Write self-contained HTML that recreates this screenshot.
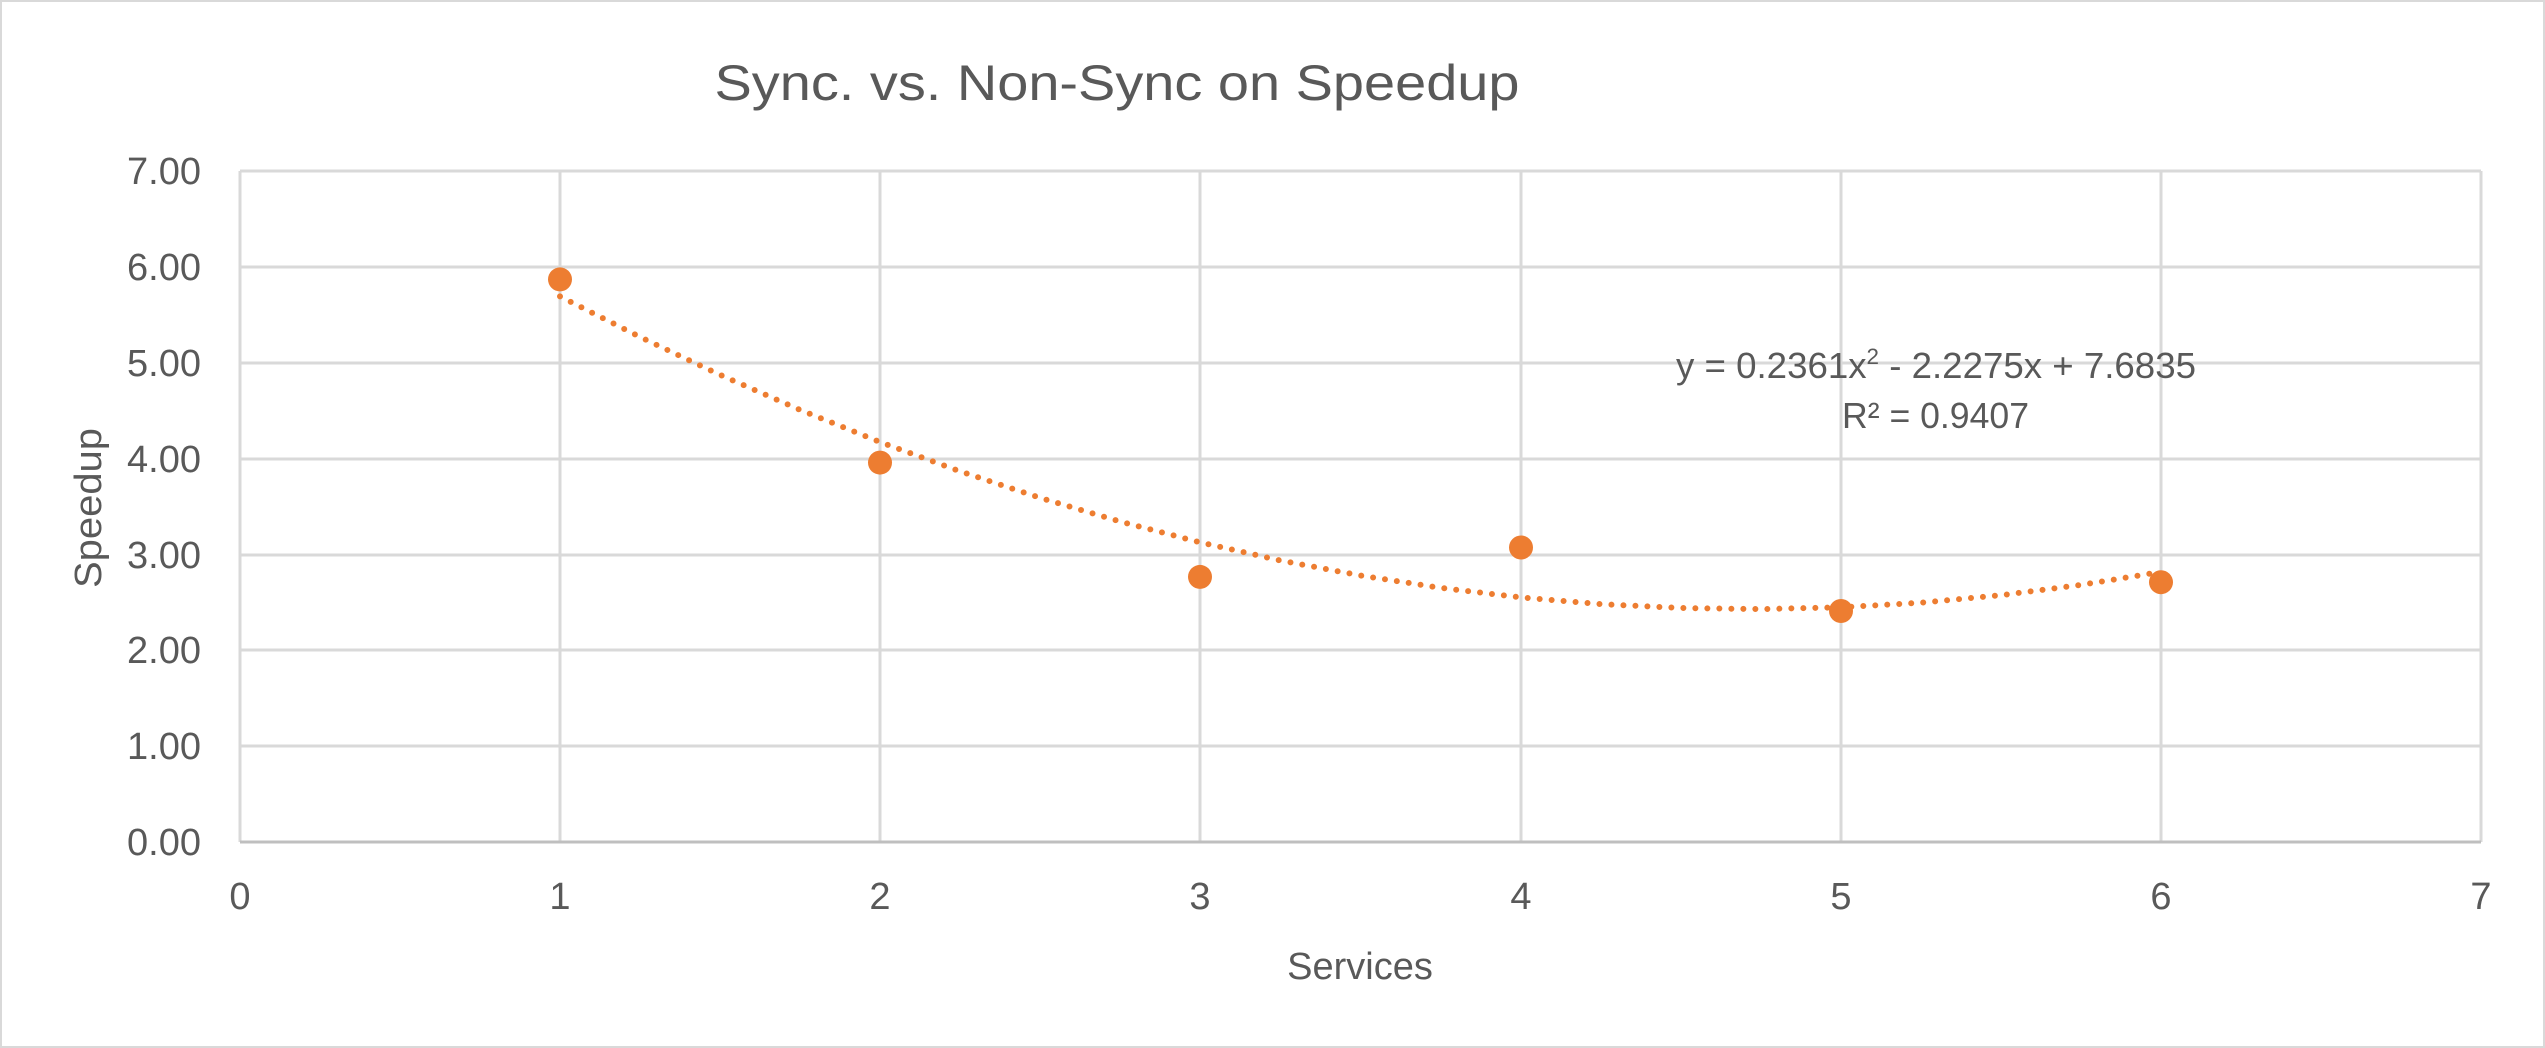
<!DOCTYPE html>
<html><head><meta charset="utf-8"><style>
html,body{margin:0;padding:0;background:#fff;}
svg{display:block;}
text{font-family:"Liberation Sans",sans-serif;fill:#595959;}
</style></head><body>
<svg width="2545" height="1048" viewBox="0 0 2545 1048" xmlns="http://www.w3.org/2000/svg">
<rect x="1" y="1" width="2543" height="1046" fill="#fff" stroke="#d9d9d9" stroke-width="2"/>
<text x="1117" y="100" font-size="50" text-anchor="middle" textLength="805" lengthAdjust="spacingAndGlyphs">Sync. vs. Non-Sync on Speedup</text>
<g stroke="#d9d9d9" stroke-width="3">
<line x1="240" y1="171" x2="2481" y2="171"/>
<line x1="240" y1="267" x2="2481" y2="267"/>
<line x1="240" y1="363" x2="2481" y2="363"/>
<line x1="240" y1="459" x2="2481" y2="459"/>
<line x1="240" y1="555" x2="2481" y2="555"/>
<line x1="240" y1="650" x2="2481" y2="650"/>
<line x1="240" y1="746" x2="2481" y2="746"/>
<line x1="240" y1="171" x2="240" y2="842"/>
<line x1="560" y1="171" x2="560" y2="842"/>
<line x1="880" y1="171" x2="880" y2="842"/>
<line x1="1200" y1="171" x2="1200" y2="842"/>
<line x1="1521" y1="171" x2="1521" y2="842"/>
<line x1="1841" y1="171" x2="1841" y2="842"/>
<line x1="2161" y1="171" x2="2161" y2="842"/>
<line x1="2481" y1="171" x2="2481" y2="842"/>
</g>
<line x1="240" y1="842" x2="2481" y2="842" stroke="#bfbfbf" stroke-width="3"/>
<g font-size="38" text-anchor="end">
<text x="201" y="184">7.00</text>
<text x="201" y="280">6.00</text>
<text x="201" y="376">5.00</text>
<text x="201" y="472">4.00</text>
<text x="201" y="568">3.00</text>
<text x="201" y="663">2.00</text>
<text x="201" y="759">1.00</text>
<text x="201" y="855">0.00</text>
</g>
<g font-size="38" text-anchor="middle">
<text x="240" y="909">0</text>
<text x="560" y="909">1</text>
<text x="880" y="909">2</text>
<text x="1200" y="909">3</text>
<text x="1521" y="909">4</text>
<text x="1841" y="909">5</text>
<text x="2161" y="909">6</text>
<text x="2481" y="909">7</text>
</g>
<text x="1360" y="979" font-size="38" text-anchor="middle">Services</text>
<text transform="translate(101,508) rotate(-90)" font-size="38" text-anchor="middle" textLength="160" lengthAdjust="spacingAndGlyphs">Speedup</text>
<polyline fill="none" stroke="#ed7d31" stroke-width="6" stroke-linecap="round" stroke-dasharray="0 12" points="560,296.4 640,337 720,374.8 800,409.8 880,442 960,471.3 1040,497.8 1120,521.5 1200,542.3 1280,560.4 1361,575.6 1441,587.9 1521,597.4 1601,604.1 1681,608 1761,609.1 1841,607.3 1921,602.7 2001,595.2 2081,584.9 2161,571.9"/>
<g fill="#ed7d31">
<circle cx="560" cy="279.4" r="12"/>
<circle cx="880" cy="462.6" r="12"/>
<circle cx="1200" cy="576.9" r="12"/>
<circle cx="1521" cy="547.5" r="12"/>
<circle cx="1841" cy="611" r="12"/>
<circle cx="2161" cy="582.2" r="12"/>
</g>
<text x="1676" y="378" font-size="36" textLength="520" lengthAdjust="spacingAndGlyphs">y = 0.2361x<tspan font-size="22" dy="-14">2</tspan><tspan dy="14"> - 2.2275x + 7.6835</tspan></text>
<text x="1842" y="428" font-size="36" textLength="187" lengthAdjust="spacingAndGlyphs">R² = 0.9407</text>
</svg>
</body></html>
